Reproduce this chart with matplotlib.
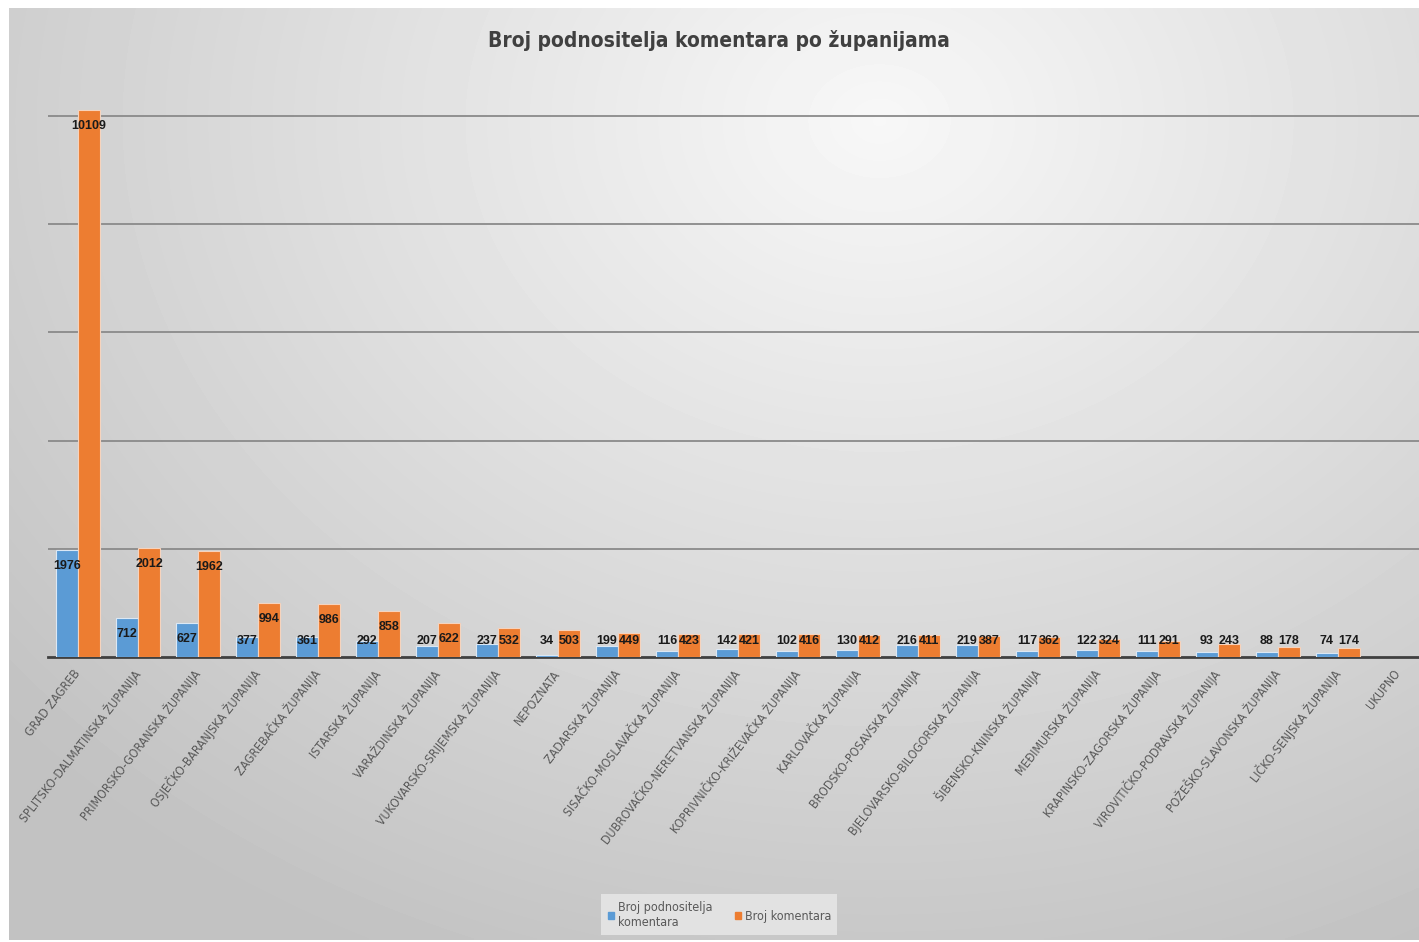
import matplotlib
matplotlib.use('Agg')
import matplotlib.pyplot as plt
import matplotlib.patches as mpatches
import numpy as np

plt.rcParams['font.family'] = ['DejaVu Sans']
plt.rcParams['font.stretch'] = 'condensed'

# data
zupanije = ['GRAD ZAGREB', 'SPLITSKO-DALMATINSKA ŽUPANIJA', 'PRIMORSKO-GORANSKA ŽUPANIJA',
            'OSJEČKO-BARANJSKA ŽUPANIJA', 'ZAGREBAČKA ŽUPANIJA', 'ISTARSKA ŽUPANIJA',
            'VARAŽDINSKA ŽUPANIJA', 'VUKOVARSKO-SRIJEMSKA ŽUPANIJA', 'NEPOZNATA',
            'ZADARSKA ŽUPANIJA', 'SISAČKO-MOSLAVAČKA ŽUPANIJA', 'DUBROVAČKO-NERETVANSKA ŽUPANIJA',
            'KOPRIVNIČKO-KRIŽEVAČKA ŽUPANIJA', 'KARLOVAČKA ŽUPANIJA', 'BRODSKO-POSAVSKA ŽUPANIJA',
            'BJELOVARSKO-BILOGORSKA ŽUPANIJA', 'ŠIBENSKO-KNINSKA ŽUPANIJA', 'MEĐIMURSKA ŽUPANIJA',
            'KRAPINSKO-ZAGORSKA ŽUPANIJA', 'VIROVITIČKO-PODRAVSKA ŽUPANIJA', 'POŽEŠKO-SLAVONSKA ŽUPANIJA',
            'LIČKO-SENJSKA ŽUPANIJA', 'UKUPNO']
podnositelji = [1976, 712, 627, 377, 361, 292, 207, 237, 34, 199, 116, 142,
                102, 130, 216, 219, 117, 122, 111, 93, 88, 74]
komentari = [10109, 2012, 1962, 994, 986, 858, 622, 532, 503, 449, 423, 421,
             416, 412, 411, 387, 362, 324, 291, 243, 178, 174]

BLUE = '#5B9BD5'
ORANGE = '#ED7D31'

fig = plt.figure(figsize=(14.19, 9.42), dpi=100)

# radial grey background like the office chart style
bg = fig.add_axes([9 / 1419, 2 / 942, 1 - 9 / 1419, 932 / 942])
xx, yy = np.meshgrid(np.linspace(9, 1419, 400), np.linspace(8, 940, 300))
d = np.sqrt((xx - 880) ** 2 + (1.25 * (yy - 120)) ** 2)
shade = 0.97 - 0.2 * np.clip(d / 1100, 0, 1.05)
bg.imshow(shade, cmap='gray', vmin=0, vmax=1, aspect='auto', extent=[0, 1, 0, 1],
          interpolation='bilinear')
bg.set_axis_off()

ax = fig.add_axes([48 / 1419, 285 / 942, 1380 / 1419, 595 / 942])
ax.patch.set_alpha(0)

x = np.arange(len(podnositelji))
w = 0.37
ax.bar(x - w / 2, podnositelji, w, color=BLUE, edgecolor='#dbe8f5', linewidth=0.8, zorder=3)
ax.bar(x + w / 2, komentari, w, color=ORANGE, edgecolor='#f6d3bd', linewidth=0.8, zorder=3)

# value labels: inside the bar top, but never lower than a small floor
lbl = dict(ha='center', va='center', fontsize=9, fontweight='bold', color='#1a1a1a',
           zorder=4, family='Liberation Sans', fontstretch='normal')
for i in range(len(podnositelji)):
    ax.text(x[i] - w / 2, max(podnositelji[i] - 296, 296), str(podnositelji[i]), **lbl)
    ax.text(x[i] + w / 2, max(komentari[i] - 296, 296), str(komentari[i]), **lbl)

ax.set_xlim(-0.5, len(zupanije) - 0.5)
ax.set_ylim(0, 11000)
ax.set_yticks([2000, 4000, 6000, 8000, 10000])
ax.yaxis.grid(True, color='#8a8a8a', linewidth=1.3)
ax.set_axisbelow(True)
ax.tick_params(axis='y', left=False, labelleft=False)
ax.tick_params(axis='x', bottom=False, pad=7)
for s in ['top', 'right', 'left']:
    ax.spines[s].set_visible(False)
ax.spines['bottom'].set_color('#404040')
ax.spines['bottom'].set_linewidth(2)

ax.set_xticks(np.arange(len(zupanije)))
ax.set_xticklabels(zupanije, rotation=52, ha='right', va='center', rotation_mode='anchor',
                   fontsize=8.8, color='#595959')

fig.text(0.507, 0.9575, 'Broj podnositelja komentara po županijama', ha='center', va='center',
         fontsize=15, fontweight='bold', color='#404040')

handles = [mpatches.Patch(color=BLUE, label='Broj podnositelja\nkomentara'),
           mpatches.Patch(color=ORANGE, label='Broj komentara')]
leg = fig.legend(handles=handles, loc='center', bbox_to_anchor=(0.507, 0.029), ncol=2,
                 fontsize=9, frameon=True, facecolor='#e2e2e2', edgecolor='none',
                 handlelength=0.5, handleheight=0.5, handletextpad=0.3, columnspacing=1.8,
                 fancybox=False, framealpha=1, borderpad=0.5)
for t in leg.get_texts():
    t.set_color('#595959')

fig.savefig('out.png', dpi=100)
